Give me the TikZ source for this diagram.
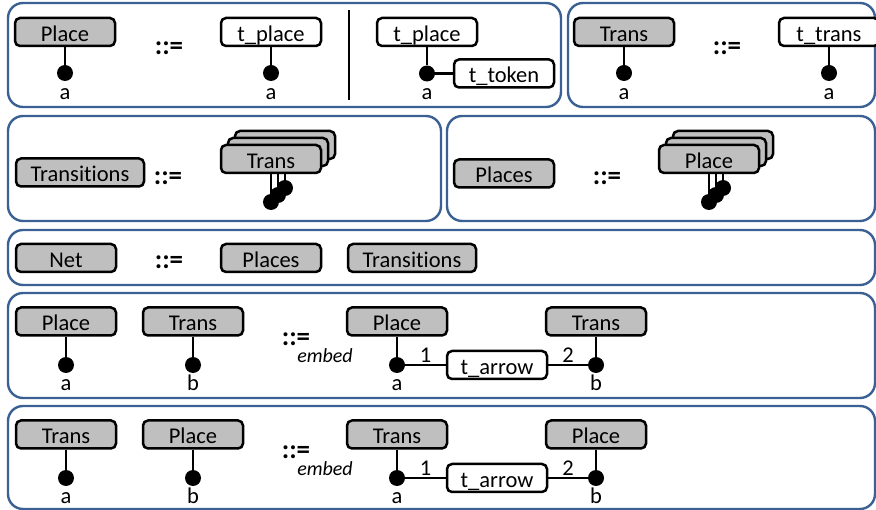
\documentclass[tikz,border=0pt]{standalone}
\usepackage{fontspec}
\setmainfont{Carlito}[Ligatures=NoCommon]
\definecolor{framecol}{HTML}{3B6194}
\definecolor{boxgray}{HTML}{BFBFBF}
\newcommand\boxfnt{\fontsize{22.5}{25}\selectfont}
\newcommand\opfnt{\fontsize{27}{30}\selectfont\bfseries}
\newcommand\subfnt{\fontsize{20}{23}\selectfont\itshape}
\tikzset{
  frame/.style={draw=framecol, line width=2.4pt, rounded corners=15pt},
  basebox/.style={draw=black, line width=2.5pt, rounded corners=5pt,
    minimum width=100pt, minimum height=28pt, inner sep=0pt,
    font=\boxfnt, text height=19pt, text depth=0pt},
  gbox/.style={basebox, fill=boxgray},
  wbox/.style={basebox, fill=white},
  pin/.style={circle, fill=black, draw=none, inner sep=0pt, minimum size=16pt},
  stem/.style={line width=2.5pt},
  lbl/.style={font=\boxfnt, inner sep=0pt, text height=10.5pt, text depth=0pt},
  defop/.style={font=\opfnt, inner sep=0pt},
  sub/.style={font=\subfnt, inner sep=0pt},
  num/.style={font=\boxfnt, inner sep=1.5pt}
}
\begin{document}
\begin{tikzpicture}[x=1pt, y=-1pt]
\useasboundingbox (0,0) rectangle (876,510);
\fill[white] (0,0) rectangle (876,510);
\clip (0,0) rectangle (876,510);

% ---------- frames ----------
\draw[frame] (8,3) rectangle (561,107);
\draw[frame] (568,3) rectangle (875,107);
\draw[frame] (8,116) rectangle (441,221);
\draw[frame] (447,116) rectangle (875,221);
\draw[frame] (8,230) rectangle (875,285);
\draw[frame] (8,293) rectangle (875,398);
\draw[frame] (8,406) rectangle (875,509);

% ---------- row 1: Place and Trans ----------
\node[gbox] (pl1) at (65,32) {Place};
\node[pin] (pl1d) at (65,73) {};
\node[lbl] (pl1a) at (65,94) {a};
\draw[stem] (pl1) -- (pl1d);
\node[defop] (op1) at (169,48.5) {::=};

\node[wbox] (tp1) at (271,32) {t\_place};
\node[pin] (tp1d) at (271,73) {};
\node[lbl] (tp1a) at (271,94) {a};
\draw[stem] (tp1) -- (tp1d);

\coordinate (sepT) at (349,10);
\coordinate (sepB) at (349,100);
\draw[stem] (sepT) -- (sepB);

\node[wbox] (tp2) at (427,32) {t\_place};
\node[pin] (tp2d) at (427,73.5) {};
\node[lbl] (tp2a) at (427,94) {a};
\draw[stem] (tp2) -- (tp2d);
\node[wbox] (tok) at (504,73.5) {t\_token};
\draw[stem] (tp2d) -- (tok.west);

\node[gbox] (tr1) at (624,32) {Trans};
\node[pin] (tr1d) at (624,73) {};
\node[lbl] (tr1a) at (624,94) {a};
\draw[stem] (tr1) -- (tr1d);
\node[defop] (op2) at (727,48.5) {::=};
\node[wbox] (tt1) at (829,32) {t\_trans};
\node[pin] (tt1d) at (829,73) {};
\node[lbl] (tt1a) at (829,94) {a};
\draw[stem] (tt1) -- (tt1d);

% ---------- row 2: Transitions and Places ----------
\node[gbox, minimum width=128pt] (trs) at (80,172.5) {Transitions};
\node[defop] (op3) at (168,178) {::=};
\foreach \k in {2,1} {
  \node[gbox] (ts\k) at ({271+7*\k},{159-7*\k}) {};
  \node[pin] (tsd\k) at ({271+7*\k},{202-7*\k}) {};
  \draw[stem] (ts\k) -- (tsd\k);
}
\node[gbox] (ts0) at (271,159) {Trans};
\node[pin] (tsd0) at (271,202) {};
\draw[stem] (ts0) -- (tsd0);

\node[gbox] (pls) at (504,173.5) {Places};
\node[defop] (op4) at (607,178) {::=};
\foreach \k in {2,1} {
  \node[gbox] (ps\k) at ({709+7*\k},{159-7*\k}) {};
  \node[pin] (psd\k) at ({709+7*\k},{202-7*\k}) {};
  \draw[stem] (ps\k) -- (psd\k);
}
\node[gbox] (ps0) at (709,159) {Place};
\node[pin] (psd0) at (709,202) {};
\draw[stem] (ps0) -- (psd0);

% ---------- row 3: Net ----------
\node[gbox] (net) at (66,258) {Net};
\node[defop] (op5) at (169,262) {::=};
\node[gbox] (npl) at (271,258) {Places};
\node[gbox, minimum width=128pt] (ntr) at (412,258) {Transitions};

% ---------- row 4: Place -> Trans ----------
\node[gbox] (ea1) at (66,321.5) {Place};
\node[pin] (ea1d) at (66,365) {};
\node[lbl] (ea1a) at (66,385) {a};
\draw[stem] (ea1) -- (ea1d);
\node[gbox] (eb1) at (193,321.5) {Trans};
\node[pin] (eb1d) at (193,365) {};
\node[lbl] (eb1b) at (193,385) {b};
\draw[stem] (eb1) -- (eb1d);
\node[defop] (op6) at (296,339) {::=};
\node[sub] (em1) at (325,356) {embed};
\node[gbox] (ra1) at (397,321.5) {Place};
\node[pin] (ra1d) at (397,365) {};
\node[lbl] (ra1a) at (397,385) {a};
\draw[stem] (ra1) -- (ra1d);
\node[wbox] (arr1) at (497,365) {t\_arrow};
\node[gbox] (rb1) at (596,321.5) {Trans};
\node[pin] (rb1d) at (596,365) {};
\node[lbl] (rb1b) at (596,385) {b};
\draw[stem] (rb1) -- (rb1d);
\draw[stem] (ra1d) -- node[num, above] {1} (arr1.west);
\draw[stem] (arr1.east) -- node[num, above] {2} (rb1d);

% ---------- row 5: Trans -> Place ----------
\node[gbox] (ea2) at (66,434.5) {Trans};
\node[pin] (ea2d) at (66,478) {};
\node[lbl] (ea2a) at (66,498) {a};
\draw[stem] (ea2) -- (ea2d);
\node[gbox] (eb2) at (193,434.5) {Place};
\node[pin] (eb2d) at (193,478) {};
\node[lbl] (eb2b) at (193,498) {b};
\draw[stem] (eb2) -- (eb2d);
\node[defop] (op7) at (296,452) {::=};
\node[sub] (em2) at (325,469) {embed};
\node[gbox] (ra2) at (397,434.5) {Trans};
\node[pin] (ra2d) at (397,478) {};
\node[lbl] (ra2a) at (397,498) {a};
\draw[stem] (ra2) -- (ra2d);
\node[wbox] (arr2) at (497,478) {t\_arrow};
\node[gbox] (rb2) at (596,434.5) {Place};
\node[pin] (rb2d) at (596,478) {};
\node[lbl] (rb2b) at (596,498) {b};
\draw[stem] (rb2) -- (rb2d);
\draw[stem] (ra2d) -- node[num, above] {1} (arr2.west);
\draw[stem] (arr2.east) -- node[num, above] {2} (rb2d);
\end{tikzpicture}
\end{document}
